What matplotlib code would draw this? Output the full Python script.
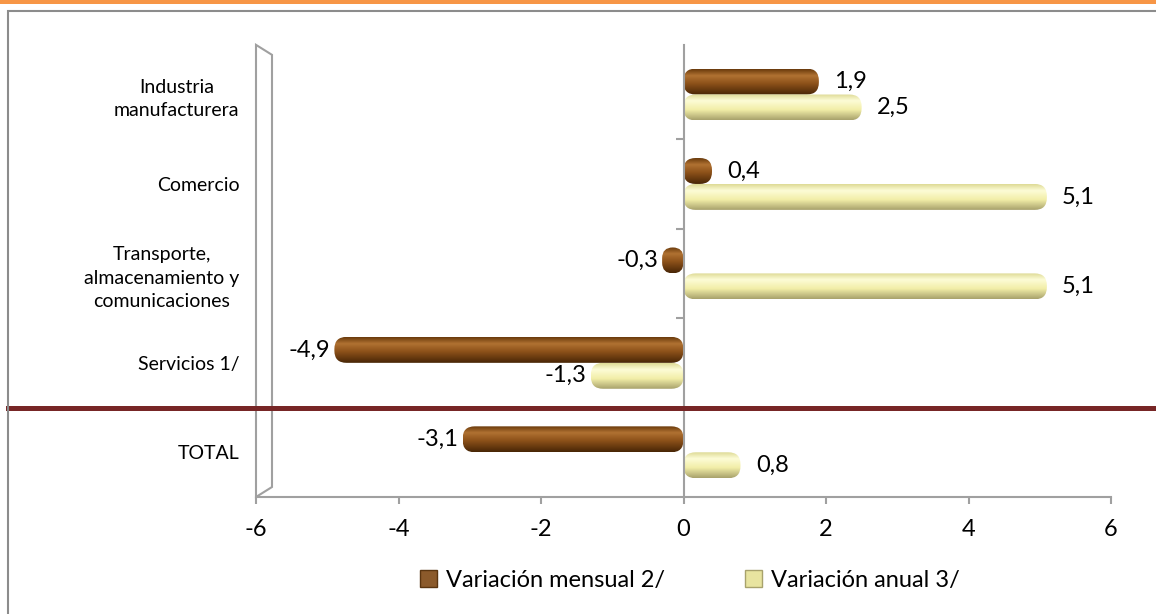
import numpy as np
import matplotlib.pyplot as plt
from matplotlib.patches import FancyBboxPatch, Polygon, Rectangle, Patch
from matplotlib.colors import LinearSegmentedColormap

categorias = ["Industria\nmanufacturera", "Comercio",
              "Transporte,\nalmacenamiento y\ncomunicaciones",
              "Servicios 1/", "TOTAL"]
mensual = [1.9, 0.4, -0.3, -4.9, -3.1]
anual = [2.5, 5.1, 5.1, -1.3, 0.8]
series = ["Variación mensual 2/", "Variación anual 3/"]
xticks = [-6, -4, -2, 0, 2, 4, 6]

plt.rcParams['font.family'] = ['Lato', 'DejaVu Sans']
plt.rcParams['axes.unicode_minus'] = False

cmap_cafe = LinearSegmentedColormap.from_list(
    'cafe', [(0, '#6a3a0c'), (0.25, '#b07232'), (0.55, '#8e521a'), (1, '#482606')])
cmap_crema = LinearSegmentedColormap.from_list(
    'crema', [(0, '#dedb96'), (0.25, '#fdfcd6'), (0.6, '#f2eea8'), (1, '#a8a26c')])

W, H = 1156, 614
fig = plt.figure(figsize=(W / 100, H / 100), dpi=100)
ax = fig.add_axes([256 / W, 1 - 497 / H, 855 / W, 449 / H])

n = len(categorias)
y = np.arange(n)
alto = 0.29
ax.set_xlim(-6, 6)
ax.set_ylim(n - 0.5, -0.52)

# aspecto para que las puntas redondeadas no se deformen
asp = (5.02 / 449) / (12 / 855)


def barra_redonda(rect, cmap):
    x0, w = rect.get_x(), rect.get_width()
    y0, h = rect.get_y(), rect.get_height()
    izq = min(x0, x0 + w)
    ancho = abs(w)
    r = min(0.17, ancho / 2, h / asp / 2)
    p = FancyBboxPatch((izq, y0), ancho, h,
                       boxstyle=f"round,pad=0,rounding_size={r}",
                       mutation_aspect=asp, fc='none', ec='none', zorder=2)
    ax.add_patch(p)
    grad = np.linspace(0, 1, 100).reshape(-1, 1)
    im = ax.imshow(grad, cmap=cmap, extent=(izq, izq + ancho, y0 + h, y0),
                   origin='upper', aspect='auto', zorder=2)
    im.set_clip_path(p)


def etiqueta(v, yy):
    txt = f"{v:.1f}".replace('.', ',')
    if v >= 0:
        ax.annotate(txt, (v, yy), xytext=(11, 0), textcoords='offset points',
                    ha='left', va='center', fontsize=17)
    else:
        ax.annotate(txt, (v, yy), xytext=(-3, 0), textcoords='offset points',
                    ha='right', va='center', fontsize=17)


b1 = ax.barh(y - alto / 2, mensual, height=alto, alpha=0)
b2 = ax.barh(y + alto / 2, anual, height=alto, alpha=0)
for rect, v, yy in zip(b1, mensual, y - alto / 2):
    barra_redonda(rect, cmap_cafe)
    etiqueta(v, yy)
for rect, v, yy in zip(b2, anual, y + alto / 2):
    barra_redonda(rect, cmap_crema)
    etiqueta(v, yy)

ax.set_xlim(-6, 6)
ax.set_ylim(n - 0.5, -0.52)

# eje vertical en cero con marcas entre categorias
ax.axvline(0, color='#a0a0a0', lw=1.5, ymax=1.007, clip_on=False, zorder=3)
limites = y[:-1] + 0.5
ax.plot(np.zeros(len(limites)), limites, ls='none', marker=0, ms=6,
        mew=1.5, color='#a0a0a0', zorder=3)

# pared 3D a la izquierda
w = 16 / 855
s = 10 / 449
pared = Polygon([(0, 0), (0, 1.007), (w, 1.007 - s), (w, s)], closed=True,
                transform=ax.transAxes, fill=False, ec='#a0a0a0', lw=1.5,
                clip_on=False, zorder=1)
ax.add_patch(pared)

ax.set_yticks(y)
ax.set_yticklabels(categorias, fontsize=14, multialignment='center',
                   linespacing=1.45)
ax.tick_params(axis='y', length=0, pad=12)
ax.set_xticks(xticks)
ax.set_xticklabels([str(t) for t in xticks], fontsize=17)
ax.tick_params(axis='x', length=5, width=1.5, color='#a0a0a0', pad=11)
for lado in ['top', 'right', 'left']:
    ax.spines[lado].set_visible(False)
ax.spines['bottom'].set_color('#a0a0a0')
ax.spines['bottom'].set_linewidth(1.5)

# linea separadora del total
ax.axhline(n - 1.5, xmin=(8 - 256) / 855, xmax=(W + 10 - 256) / 855,
           color='#772626', lw=3.6, clip_on=False, zorder=4)

# marco y franja superior
fig.patches.append(Rectangle((8 / W, -0.1), 1.2, 1.1 - 11 / H, fill=False,
                             ec='#8c8c8c', lw=1.5, transform=fig.transFigure))
fig.patches.append(Rectangle((0, 1 - 4 / H), 1, 4 / H, fc='#f79646', ec='none',
                             transform=fig.transFigure))

manejadores = [Patch(fc='#8b5a2b', ec='#5a3510', label=series[0]),
               Patch(fc='#e8e4a0', ec='#a8a26c', label=series[1])]
fig.legend(handles=manejadores, loc='center', bbox_to_anchor=(690 / W, 1 - 580 / H),
           ncol=2, frameon=False, fontsize=17, handlelength=0.7, handleheight=0.7,
           handletextpad=0.4, columnspacing=3.4)

fig.savefig('out.png', dpi=100)
